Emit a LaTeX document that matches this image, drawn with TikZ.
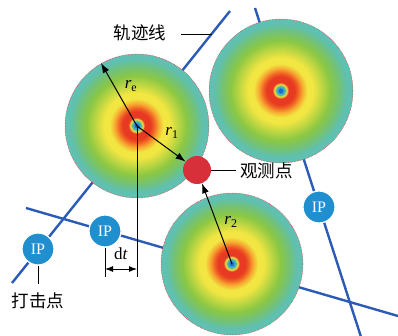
\documentclass[tikz,border=0pt]{standalone}
\usepackage{fontspec}
\setmainfont{Liberation Serif}
\newfontfamily\cjk{Noto Sans CJK SC}
\usetikzlibrary{arrows.meta}
\definecolor{trackblue}{HTML}{2B5BB5}
\definecolor{ipblue}{HTML}{1F8FD0}
\definecolor{obsred}{HTML}{D8303A}
\definecolor{hA}{HTML}{1A6EC8}
\definecolor{hB}{HTML}{40A8E0}
\definecolor{hC}{HTML}{60C088}
\definecolor{hD}{HTML}{F0E040}
\definecolor{hE}{HTML}{E83A22}
\definecolor{hF}{HTML}{F06024}
\definecolor{hG}{HTML}{F8A832}
\definecolor{hH}{HTML}{F2E642}
\definecolor{hI}{HTML}{C2D842}
\definecolor{hJ}{HTML}{8CC844}
\definecolor{hK}{HTML}{74C276}
\definecolor{hL}{HTML}{60C0B2}
\newcommand{\drawheatdisc}[2]{%
  \foreach \ra/\ca/\rb/\cb in {72/hL/67/hL, 67/hL/59/hK, 59/hK/50/hJ, 50/hJ/41/hI,
      41/hI/33/hH, 33/hH/27/hH, 27/hH/22/hG, 22/hG/17.5/hF, 17.5/hF/14/hE, 14/hE/8.5/hE,
      8.5/hE/6.5/hD, 6.5/hD/5/hC, 5/hC/3.5/hB, 3.5/hB/2/hA, 2/hA/0.5/hA}{
    \pgfmathtruncatemacro{\nst}{(\ra-\rb)*2-1}
    \foreach \k in {0,...,\nst}{
      \pgfmathsetmacro{\rr}{\ra-\k*0.5}
      \pgfmathtruncatemacro{\pp}{(\rr-\rb)/(\ra-\rb)*100}
      \fill[color=\ca!\pp!\cb] (#1) circle[radius=\rr*#2];
    }
  }%
}
\tikzset{
  track/.style={draw=trackblue, line width=2.4pt},
  heatborder/.style={circle, inner sep=0pt, minimum size=144pt, draw=red!85, densely dotted, line width=0.5pt},
  ipnode/.style={circle, inner sep=0pt, minimum size=32pt, fill=ipblue, draw=white, line width=1.2pt, text=white, font=\fontsize{16}{18}\selectfont},
  thin black/.style={draw=black, line width=0.9pt},
  rarrow/.style={draw=black, line width=1pt, -{Latex[length=10pt,width=7pt]}},
  cjklabel/.style={font=\cjk\fontsize{17.5}{20}\selectfont, inner sep=0pt},
  rlabel/.style={font=\fontsize{17}{19}\selectfont, inner sep=0pt}
}
\begin{document}
\begin{tikzpicture}[x=1pt,y=-1pt]
\useasboundingbox (0,0) rectangle (398,336);
% trajectory lines
\coordinate (ta1) at (230,11); \coordinate (ta2) at (12,283);
\coordinate (tb1) at (26,208); \coordinate (tb2) at (398,316);
\coordinate (tc1) at (255,8);  \coordinate (tc2) at (362,340);
\draw[track] (ta1) -- (ta2);
\draw[track] (tb1) -- (tb2);
\draw[track] (tc1) -- (tc2);
% heat discs
\drawheatdisc{137,126}{1}
\drawheatdisc{281,91}{1}
\drawheatdisc{232,264}{0.986}
\node[heatborder] (h1) at (137,126) {};
\node[heatborder] (h2) at (281,91) {};
\node[heatborder, minimum size=142pt] (h3) at (232,264) {};
% observation point
\node[circle, inner sep=0pt, minimum size=28pt, fill=obsred] (obs) at (197,170) {};
% IP nodes
\node[ipnode] (ip1) at (38,249) {IP};
\node[ipnode] (ip2) at (105,231) {IP};
\node[ipnode] (ip3) at (319,207) {IP};
% dt construction
\coordinate (dl) at (105,277);
\coordinate (dr) at (137,277);
\coordinate (dal) at (105,269);
\coordinate (dar) at (137,269);
\draw[thin black] (ip2.south) -- (dl);
\draw[thin black] (h1.center) -- (dr);
\draw[draw=black, line width=1pt, {Latex[length=8pt,width=6pt]}-{Latex[length=8pt,width=6pt]}] (dal) -- (dar);
\node[rlabel] (dtlab) at (121,254) {d\textit{t}};
% radius arrows
\coordinate (ret) at (101,63);
\draw[rarrow] (h1.center) -- (ret);
\draw[rarrow] (h1.center) -- (obs);
\draw[rarrow] (h3.center) -- (obs);
\node[rlabel] (relab) at (131,86) {\textit{r}\textsubscript{e}};
\node[rlabel] (r1lab) at (172,133) {\textit{r}\textsubscript{1}};
\node[rlabel] (r2lab) at (231,222) {\textit{r}\textsubscript{2}};
% labels
\node[cjklabel] (gjx) at (140,33) {轨迹线};
\coordinate (gjxs) at (181,34);
\coordinate (gjxe) at (212,34);
\draw[thin black] (gjxs) -- (gjxe);
\node[cjklabel, anchor=west] (gcd) at (240,171) {观测点};
\coordinate (gcdl) at (236,170);
\draw[thin black] (obs.east) -- (gcdl);
\node[cjklabel] (djd) at (38,301) {打击点};
\coordinate (ip1e) at (38,284);
\draw[thin black] (ip1.south) -- (ip1e);
\end{tikzpicture}
\end{document}
